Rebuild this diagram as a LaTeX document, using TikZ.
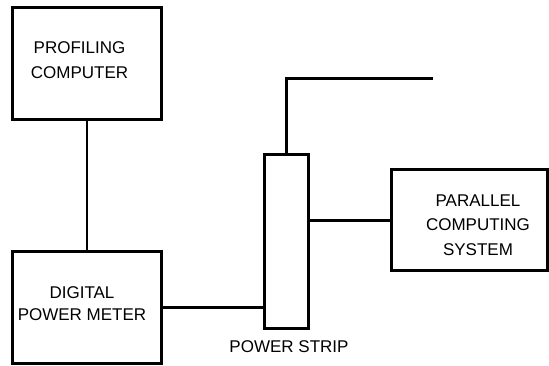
\documentclass[tikz,border=0pt]{standalone}
\usepackage{fontspec}
\setmainfont{Liberation Sans}
\tikzset{
  device/.style={
    draw,
    line width = 3pt,
    inner sep = 0pt
  },
  stripbox/.style={
    draw,
    line width = 3pt,
    inner sep = 0pt,
    minimum width = 44.6pt,
    minimum height = 173.4pt
  },
  cable/.style={
    line width = 2.7pt
  },
  boxtext/.style={
    inner sep = 0pt,
    align = center,
    font = \fontsize{17}{24.5}\selectfont
  },
  every picture/.style = {
    x = 1pt,
    y = 1pt
  }
}
\begin{document}
\begin{tikzpicture}
            \useasboundingbox (0,0) rectangle (549,366);
            \node[device,minimum width=149pt,minimum height=111.5pt] (pc) at (87,302.7) {};
            \node[device,minimum width=149pt,minimum height=112pt] (meter) at (87,58.6) {};
            \node[stripbox] (strip) at (286.5,124.5) {};
            \node[device,minimum width=155.7pt,minimum height=101pt] (pcs) at (469.6,145.7) {};
            \coordinate (plug) at (432.7,287.3);
            \node[boxtext] (pctext) at (79.5,305.6) {PROFILING\\COMPUTER};
            \node[boxtext,font=\fontsize{17}{22}\selectfont] (metertext) at (82,62.1) {DIGITAL\\POWER METER};
            \node[boxtext] (pcstext) at (478,141) {PARALLEL\\COMPUTING\\SYSTEM};
            \node[boxtext] (striptext) at (289,19.8) {POWER STRIP};
            \draw[cable] (pc)--(meter);
            \draw[cable] (meter.east)--(meter.east -| strip.west);
            \draw[cable] (pcs.west)--(pcs.west -| strip.east);
            \draw[cable] (strip.north)|-(plug);
        \end{tikzpicture}
\end{document}
